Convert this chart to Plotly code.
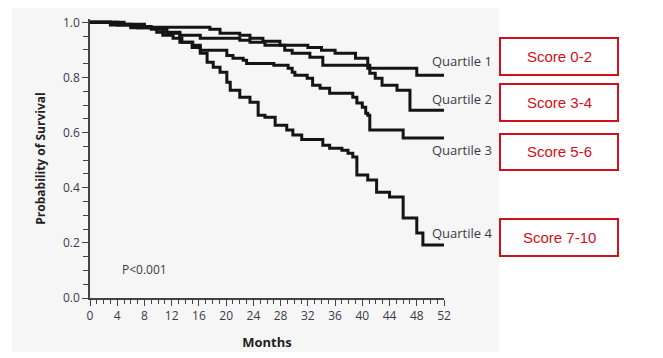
import plotly.graph_objects as go

# ---- data (months, survival probability) ----
q1_months = [0, 5, 8, 17.6, 19.1, 22, 23.5, 25.4, 27.9, 32, 34, 36, 39, 40.8, 48, 52]
q1_surv = [1.0, 0.993, 0.982, 0.975, 0.960, 0.953, 0.942, 0.931, 0.917, 0.909, 0.899, 0.888, 0.870, 0.833, 0.808, 0.808]

q2_months = [0, 4, 7, 10.7, 13.2, 16.2, 22, 23.5, 25.7, 28.6, 29.7, 32.3, 34.2, 41.1, 41.9, 42.9, 45.1, 47, 52]
q2_surv = [1.0, 0.99, 0.98, 0.964, 0.953, 0.942, 0.935, 0.928, 0.917, 0.899, 0.888, 0.873, 0.844, 0.815, 0.797, 0.772, 0.754, 0.681, 0.681]

q3_months = [0, 3, 6, 9, 11.3, 13.2, 15.1, 16.2, 20.1, 21, 22.5, 23, 27, 29.1, 29.7, 30.1, 31.9, 32.7, 33.8,
             35.2, 38.6, 39.2, 40, 40.5, 40.8, 41.1, 46, 52]
q3_surv = [1.0, 0.993, 0.985, 0.975, 0.96, 0.928, 0.917, 0.899, 0.88, 0.87, 0.862, 0.851, 0.844, 0.833, 0.819,
           0.808, 0.797, 0.772, 0.761, 0.743, 0.728, 0.707, 0.692, 0.67, 0.663, 0.609, 0.58, 0.58]

q4_months = [0, 3, 6, 9.8, 10.7, 12.2, 13.5, 15, 16.2, 17.2, 18.1, 19.1, 20.1, 20.6, 22, 23.5, 24.7, 25.7,
             27.2, 28.9, 29.8, 31.1, 34.2, 35.2, 37, 37.9, 38.6, 39.2, 40.8, 42.1, 44, 46, 48, 48.9, 52]
q4_surv = [1.0, 0.99, 0.98, 0.964, 0.953, 0.942, 0.928, 0.909, 0.888, 0.855, 0.837, 0.819, 0.783, 0.754,
           0.728, 0.71, 0.663, 0.656, 0.627, 0.609, 0.591, 0.575, 0.554, 0.543, 0.536, 0.525, 0.511, 0.446,
           0.428, 0.384, 0.366, 0.29, 0.236, 0.192, 0.192]

series_labels = ["Quartile 1", "Quartile 2", "Quartile 3", "Quartile 4"]
label_y = [0.859, 0.721, 0.536, 0.236]
score_labels = ["Score 0-2", "Score 3-4", "Score 5-6", "Score 7-10"]

x_ticks = list(range(0, 53, 4))
y_ticks = [0.0, 0.2, 0.4, 0.6, 0.8, 1.0]

# ---- layout geometry (page has an 8px default body margin) ----
OFF = 8
W, H = 663 - OFF, 358 - OFF
L, T = 90 - OFF, 19 - OFF
PW = 354
PH = 279
R = W - L - PW
B = H - T - PH


def px(x):
    return (x - OFF - L) / PW


def py(y):
    return (T + PH - (y - OFF)) / PH


fig = go.Figure()
for m, s in [(q1_months, q1_surv), (q2_months, q2_surv), (q3_months, q3_surv), (q4_months, q4_surv)]:
    fig.add_trace(go.Scatter(x=m, y=s, mode="lines", line=dict(color="#141414", width=3, shape="hv"),
                             showlegend=False, hoverinfo="skip"))

axis_font = dict(family="Open Sans, sans-serif", size=12, color="#3a3a48")

fig.update_layout(
    width=W, height=H,
    margin=dict(l=L, r=R, t=T, b=B, autoexpand=False),
    paper_bgcolor="white",
    plot_bgcolor="rgba(0,0,0,0)",
    showlegend=False,
    xaxis=dict(range=[0, 52], tickvals=x_ticks, ticks="outside", ticklen=6, tickwidth=1.3,
               tickcolor="#444", showline=True, linecolor="#444", linewidth=1.6, showgrid=False,
               zeroline=False, tickfont=axis_font, automargin=False,
               minor=dict(dtick=1, ticks="outside", ticklen=4, tickwidth=1.2, tickcolor="#444", showgrid=False),
               title=dict(text="<b>Months</b>", font=dict(family="Open Sans, sans-serif", size=13, color="#222"))),
    yaxis=dict(range=[0, 1.012], tickvals=y_ticks, tickformat=".1f", ticks="outside", ticklen=6,
               tickwidth=1.3, tickcolor="#444", showline=True, linecolor="#444", linewidth=1.6,
               showgrid=False, zeroline=False, tickfont=axis_font, automargin=False,
               minor=dict(dtick=0.05, tick0=0, ticks="outside", ticklen=5, tickwidth=1.2, tickcolor="#444",
                          showgrid=False),
               title=dict(text="<b>Probability of Survival</b>",
                          font=dict(family="Open Sans, sans-serif", size=12, color="#222"))),
)

# grey panel background
fig.add_shape(type="rect", xref="paper", yref="paper", x0=px(12), x1=px(499), y0=py(352), y1=py(3),
              fillcolor="#f6f6f6", line=dict(width=0), layer="below")

# quartile labels
for lab, yv in zip(series_labels, label_y):
    fig.add_annotation(x=50.0, y=yv, xref="x", yref="y", text=lab, showarrow=False, xanchor="left",
                       yanchor="middle",
                       font=dict(family="Open Sans, sans-serif", size=13, color="#3a3a48"))

# p-value
fig.add_annotation(x=4.4, y=0.105, xref="x", yref="y", text="P<0.001", showarrow=False, xanchor="left",
                   yanchor="middle",
                   font=dict(family="Open Sans, sans-serif", size=12, color="#3a3a48"))

# red score boxes
box_px = [(38, 75), (84, 121), (134, 170), (219, 256)]
for lab, (y0, y1) in zip(score_labels, box_px):
    fig.add_shape(type="rect", xref="paper", yref="paper", x0=px(500), x1=px(618), y0=py(y1), y1=py(y0),
                  line=dict(color="#d0101a", width=2), fillcolor="white")
    fig.add_annotation(x=px(559), y=py((y0 + y1) / 2), xref="paper", yref="paper", text=lab,
                       showarrow=False, xanchor="center", yanchor="middle",
                       font=dict(family="Liberation Sans, Arial, sans-serif", size=15, color="#d0101a"))

fig.write_html("out.html")
